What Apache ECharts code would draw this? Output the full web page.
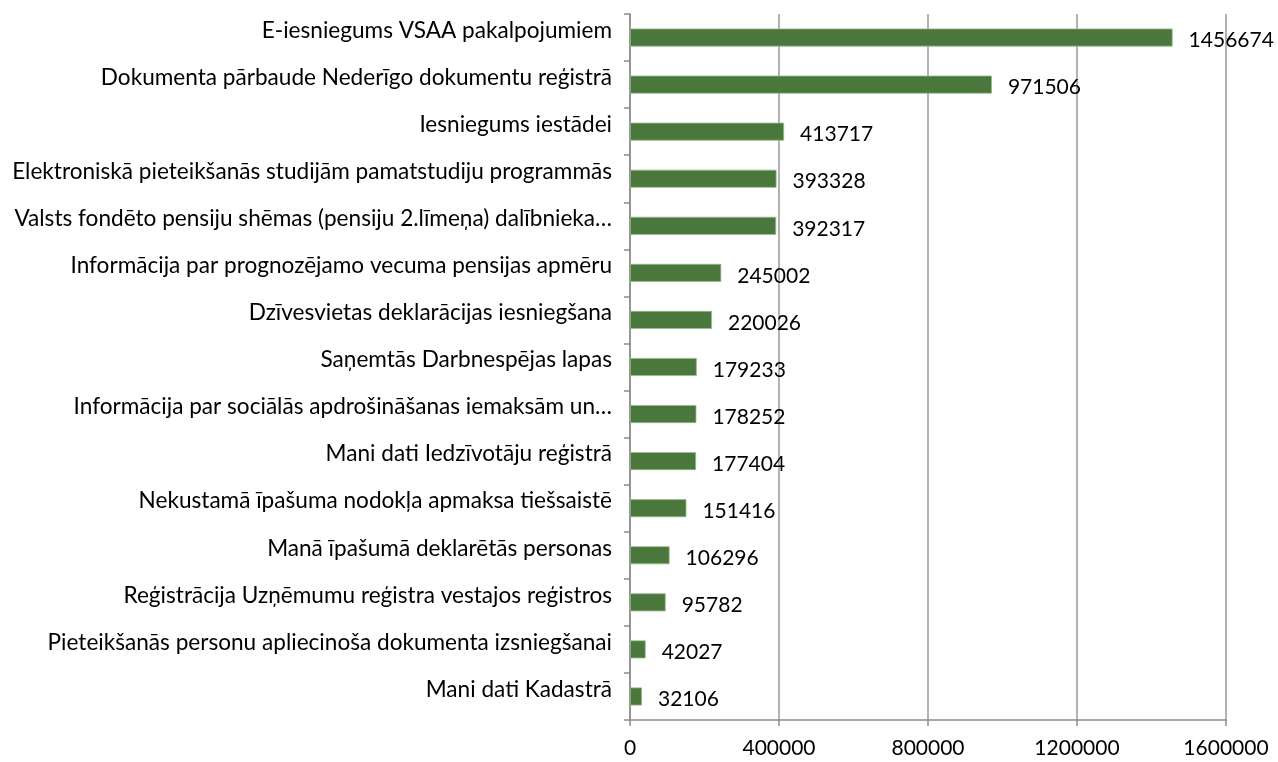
<!DOCTYPE html>
<html style="height: 100%">
<head>
    <meta charset="UTF-8">
    <script src="https://cdn.jsdelivr.net/npm/echarts@6/dist/echarts.min.js"></script>
</head>
<body style="margin: 0; background-color: #ffffff">
    <div id="paint" style="width: 1278px; height: 762px"></div>
<script>
    var categories = [
        'E-iesniegums VSAA pakalpojumiem',
        'Dokumenta pārbaude Nederīgo dokumentu reģistrā',
        'Iesniegums iestādei',
        'Elektroniskā pieteikšanās studijām pamatstudiju programmās',
        'Valsts fondēto pensiju shēmas (pensiju 2.līmeņa) dalībnieka…',
        'Informācija par prognozējamo vecuma pensijas apmēru',
        'Dzīvesvietas deklarācijas iesniegšana',
        'Saņemtās Darbnespējas lapas',
        'Informācija par sociālās apdrošināšanas iemaksām un…',
        'Mani dati Iedzīvotāju reģistrā',
        'Nekustamā īpašuma nodokļa apmaksa tiešsaistē',
        'Manā īpašumā deklarētās personas',
        'Reģistrācija Uzņēmumu reģistra vestajos reģistros',
        'Pieteikšanās personu apliecinoša dokumenta izsniegšanai',
        'Mani dati Kadastrā'
    ];
    var values = [1456674, 971506, 413717, 393328, 392317, 245002, 220026, 179233,
                  178252, 177404, 151416, 106296, 95782, 42027, 32106];
    var xMax = 1600000;
    var xStep = 400000;

    var txt = {fontFamily: 'Lato', fontSize: 21, color: '#000000'};

    echarts.init(document.getElementById('paint')).setOption({
        backgroundColor: '#ffffff',
        animation: false,
        grid: {left: 630, right: 52, top: 14, bottom: 42},
        xAxis: {
            type: 'value',
            min: 0,
            max: xMax,
            interval: xStep,
            axisLine: {show: true, lineStyle: {color: '#8c8c8c', width: 1.5}},
            axisTick: {show: true, length: 6, lineStyle: {color: '#8c8c8c', width: 1.5}},
            axisLabel: Object.assign({margin: 18, formatter: function (v) { return String(v); }}, txt),
            splitLine: {show: true, lineStyle: {color: '#9a9a9a', width: 1.5}}
        },
        yAxis: {
            type: 'category',
            inverse: true,
            data: categories,
            axisLine: {show: true, lineStyle: {color: '#8c8c8c', width: 1.5}},
            axisTick: {show: true, length: 6, lineStyle: {color: '#8c8c8c', width: 1.5}},
            axisLabel: {
                margin: 18,
                formatter: function (v) { return '{a|' + v + '}'; },
                rich: {
                    a: {fontFamily: 'Lato', fontSize: 22.6, color: '#000000', padding: [0, 0, 14, 0]}
                }
            }
        },
        series: [{
            type: 'bar',
            data: values,
            barWidth: 18,
            itemStyle: {color: '#4a783c', borderColor: '#9bb88f', borderWidth: 0.8},
            label: Object.assign({
                show: true,
                position: 'right',
                distance: 16,
                offset: [0, 3]
            }, txt)
        }]
    });
</script>
</body>
</html>
